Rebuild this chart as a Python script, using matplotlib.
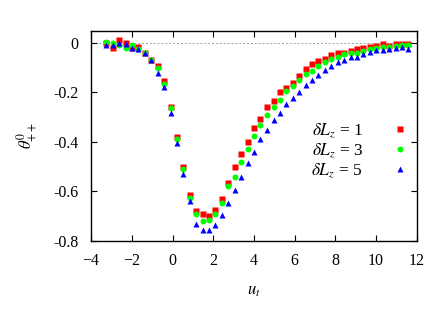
import numpy as np
import matplotlib
matplotlib.use("Agg")
import matplotlib.pyplot as plt

plt.rcParams['font.family'] = ['Liberation Serif', 'DejaVu Serif']
plt.rcParams['mathtext.fontset'] = 'stix'

# sample positions u_t
u_t = [-3.26, -2.94, -2.63, -2.31, -1.99, -1.68, -1.36, -1.05, -0.73, -0.42,
       -0.10, 0.22, 0.53, 0.85, 1.16, 1.48, 1.80, 2.11, 2.43, 2.74,
       3.06, 3.38, 3.69, 4.01, 4.32, 4.64, 4.96, 5.27, 5.59, 5.90,
       6.22, 6.54, 6.85, 7.17, 7.48, 7.80, 8.12, 8.43, 8.75, 9.06,
       9.38, 9.70, 10.01, 10.33, 10.64, 10.96, 11.28, 11.59]

# theta^0_{++} for dLz = 1, 3, 5
theta_1 = [0.0, -0.02, 0.01, 0.0, -0.02, -0.015, -0.04, -0.07, -0.095, -0.155,
           -0.26, -0.38, -0.50, -0.615, -0.678, -0.69, -0.70, -0.675, -0.632, -0.568,
           -0.503, -0.448, -0.40, -0.345, -0.307, -0.257, -0.233, -0.20, -0.183, -0.16,
           -0.133, -0.105, -0.086, -0.073, -0.065, -0.049, -0.041, -0.039, -0.031, -0.026,
           -0.021, -0.015, -0.011, -0.004, -0.011, -0.004, -0.004, -0.004]
theta_3 = [0.005, 0.0, -0.01, -0.02, -0.01, -0.025, -0.04, -0.07, -0.10, -0.166,
           -0.263, -0.39, -0.51, -0.625, -0.69, -0.72, -0.715, -0.69, -0.648, -0.58,
           -0.543, -0.48, -0.428, -0.375, -0.33, -0.29, -0.257, -0.23, -0.193, -0.174,
           -0.15, -0.126, -0.112, -0.093, -0.078, -0.066, -0.058, -0.045, -0.041, -0.039,
           -0.031, -0.024, -0.021, -0.015, -0.017, -0.012, -0.01, -0.008]
theta_5 = [-0.01, -0.01, 0.0, -0.005, -0.02, -0.025, -0.04, -0.07, -0.12, -0.178,
           -0.282, -0.405, -0.53, -0.64, -0.73, -0.757, -0.757, -0.736, -0.695, -0.645,
           -0.594, -0.54, -0.487, -0.44, -0.39, -0.352, -0.312, -0.285, -0.247, -0.224,
           -0.197, -0.172, -0.15, -0.129, -0.109, -0.093, -0.077, -0.069, -0.058, -0.055,
           -0.044, -0.035, -0.029, -0.03, -0.025, -0.021, -0.018, -0.025]

labels = [r'$\delta L_z$ = 1', r'$\delta L_z$ = 3', r'$\delta L_z$ = 5']

fig = plt.figure(figsize=(4.36, 3.12), dpi=100)
ax = fig.add_axes([0.209, 0.228, 0.747, 0.674])

ax.axhline(0, color='#a0a0a0', lw=0.7, ls=(0, (2, 2)), zorder=1)

ax.plot(u_t, theta_1, 's', color='#ff0000', ms=4, mec='none', label=labels[0])
ax.plot(u_t, theta_3, 'o', color='#00ff00', ms=4.3, mec='none', label=labels[1])
ax.plot(u_t, theta_5, '^', color='#0000ff', ms=4, mec='none', label=labels[2])

ax.set_xlim(-4, 12)
ax.set_ylim(-0.8, 0.05)
ax.set_xticks(np.arange(-4, 13, 2))
ax.set_yticks([0, -0.2, -0.4, -0.6, -0.8])
ax.set_yticklabels(['0', '-0.2', '-0.4', '-0.6', '-0.8'])
ax.tick_params(direction='in', top=True, right=True, length=4, width=0.8,
               labelsize=11.5)
ax.tick_params(axis='x', pad=9)
ax.tick_params(axis='y', pad=9)
for s in ax.spines.values():
    s.set_linewidth(1.0)

ax.set_xlabel(r'$u_t$', fontsize=12, labelpad=10)
ax.set_ylabel(r'$\theta^0_{++}$', fontsize=12, labelpad=10)

ax.legend(loc='upper right', bbox_to_anchor=(0.995, 0.6), frameon=False,
          markerfirst=False, fontsize=12.5, handletextpad=1.6, labelspacing=0.1,
          handlelength=1.0, borderaxespad=0)

fig.savefig('out.png', dpi=100)
